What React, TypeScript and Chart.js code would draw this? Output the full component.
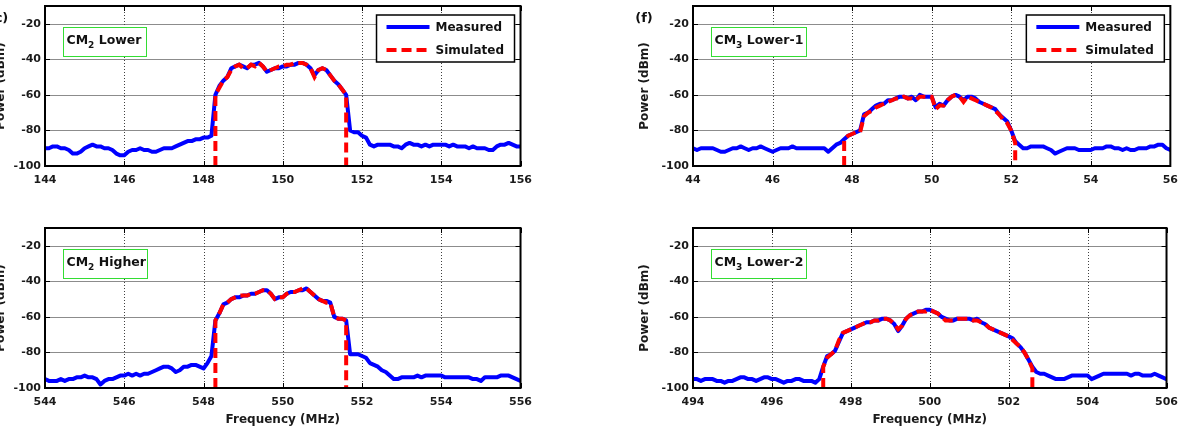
import React, { useEffect, useRef } from "react";
import { Chart, registerables } from "chart.js";

Chart.register(...registerables);

// ---------- data ----------
const STEP = 0.1; // MHz between samples
const Y_MIN = -100;
const Y_MAX = -10;
const yTicks = [-100, -80, -60, -40, -20];

// (c) CM2 Lower
const xTicksA = [144, 146, 148, 150, 152, 154, 156];
const measStartA = 144.0;
const measuredA = [
  -90, -90, -89, -89, -90, -90, -91, -93, -93, -92,
  -90, -89, -88, -89, -89, -90, -90, -91, -93, -94,
  -94, -92, -91, -91, -90, -91, -91, -92, -92, -91,
  -90, -90, -90, -89, -88, -87, -86, -86, -85, -85,
  -84, -84, -83, -60, -55, -52, -50, -45, -44, -43,
  -44, -45, -43, -43, -42, -44, -47, -46, -45, -45,
  -44, -44, -43, -43, -42, -42, -43, -45, -49, -46,
  -45, -46, -49, -52, -54, -57, -60, -80, -81, -81,
  -83, -84, -88, -89, -88, -88, -88, -88, -89, -89,
  -90, -88, -87, -88, -88, -89, -88, -89, -88, -88,
  -88, -88, -89, -88, -89, -89, -89, -90, -89, -90,
  -90, -90, -91, -91, -89, -88, -88, -87, -88, -89,
  -89,
];
const simStartA = 148.3;
const simulatedA = [
  -60, -56, -52, -50, -46, -44, -43, -45, -45, -43,
  -44, -42, -44, -47, -46, -45, -44, -44, -43, -43,
  -42, -42, -42, -43, -45, -50, -46, -45, -46, -49,
  -52, -54, -57, -60,
];

// CM2 Higher
const xTicksB = [544, 546, 548, 550, 552, 554, 556];
const measStartB = 544.0;
const measuredB = [
  -95, -96, -96, -96, -95, -96, -95, -95, -94, -94,
  -93, -94, -94, -95, -98, -96, -95, -95, -94, -93,
  -93, -92, -93, -92, -93, -92, -92, -91, -90, -89,
  -88, -88, -89, -91, -90, -88, -88, -87, -87, -88,
  -89, -86, -82, -62, -58, -53, -52, -50, -49, -49,
  -48, -48, -47, -47, -46, -45, -45, -47, -50, -49,
  -49, -47, -46, -46, -45, -45, -44, -46, -48, -50,
  -51, -51, -52, -60, -61, -61, -62, -81, -81, -81,
  -82, -83, -86, -87, -88, -90, -91, -93, -95, -95,
  -94, -94, -94, -94, -93, -94, -93, -93, -93, -93,
  -93, -94, -94, -94, -94, -94, -94, -94, -95, -95,
  -96, -94, -94, -94, -94, -93, -93, -93, -94, -95,
  -96,
];
const simStartB = 548.3;
const simulatedB = [
  -62, -58, -53, -52, -50, -49, -48, -48, -48, -47,
  -47, -46, -45, -45, -47, -50, -49, -49, -47, -46,
  -46, -45, -44, -44, -46, -48, -50, -51, -52, -52,
  -60, -61, -61, -62,
];

// (f) CM3 Lower-1
const xTicksC = [44, 46, 48, 50, 52, 54, 56];
const measStartC = 44.0;
const measuredC = [
  -90, -91, -90, -90, -90, -90, -91, -92, -92, -91,
  -90, -90, -89, -90, -91, -90, -90, -89, -90, -91,
  -92, -91, -90, -90, -90, -89, -90, -90, -90, -90,
  -90, -90, -90, -90, -92, -90, -88, -87, -85, -83,
  -82, -81, -80, -71, -70, -68, -66, -65, -65, -63,
  -63, -62, -61, -61, -62, -61, -63, -60, -61, -61,
  -61, -67, -65, -66, -63, -61, -60, -61, -63, -61,
  -61, -62, -64, -65, -66, -67, -68, -71, -73, -75,
  -80, -86, -88, -90, -90, -89, -89, -89, -89, -90,
  -91, -93, -92, -91, -90, -90, -90, -91, -91, -91,
  -91, -90, -90, -90, -89, -89, -90, -90, -91, -90,
  -91, -91, -90, -90, -90, -89, -89, -88, -88, -90,
  -91,
];
const simStartC = 47.8;
const simulatedC = [
  -85, -83, -82, -81, -81, -72, -70, -69, -67, -66,
  -65, -64, -63, -62, -62, -61, -62, -62, -63, -61,
  -61, -61, -61, -68, -66, -66, -63, -61, -60, -61,
  -64, -61, -62, -63, -64, -65, -66, -67, -69, -71,
  -74, -76, -80, -87,
];

// CM3 Lower-2
const xTicksD = [494, 496, 498, 500, 502, 504, 506];
const measStartD = 494.0;
const measuredD = [
  -95, -95, -96, -95, -95, -95, -96, -96, -97, -96,
  -96, -95, -94, -94, -95, -95, -96, -95, -94, -94,
  -95, -95, -96, -97, -96, -96, -95, -95, -96, -96,
  -96, -97, -95, -88, -82, -81, -79, -74, -69, -68,
  -67, -66, -65, -64, -63, -63, -62, -62, -61, -61,
  -62, -64, -68, -65, -61, -59, -58, -57, -57, -56,
  -56, -57, -58, -60, -61, -62, -62, -61, -61, -61,
  -61, -62, -61, -63, -64, -66, -67, -68, -69, -70,
  -71, -72, -75, -77, -80, -84, -88, -91, -92, -92,
  -93, -94, -95, -95, -95, -94, -93, -93, -93, -93,
  -93, -95, -94, -93, -92, -92, -92, -92, -92, -92,
  -92, -93, -92, -92, -93, -93, -93, -92, -93, -94,
  -95,
];
const simStartD = 497.3;
const simulatedD = [
  -88, -83, -81, -79, -73, -69, -68, -67, -66, -65,
  -64, -63, -63, -62, -62, -61, -61, -62, -64, -67,
  -65, -61, -59, -58, -57, -57, -57, -56, -57, -58,
  -60, -62, -62, -62, -61, -61, -61, -61, -62, -62,
  -63, -64, -66, -67, -68, -69, -70, -71, -73, -75,
  -77, -80, -84, -89,
];

const legendLabels = ["Measured", "Simulated"];
const xTitle = "Frequency (MHz)";
const yTitle = "Power (dBm)";

// ---------- helpers ----------
type Pt = { x: number; y: number };
function series(start: number, vals: number[]): Pt[] {
  return vals.map((v, i) => ({ x: +(start + i * STEP).toFixed(3), y: v }));
}
function simSeries(start: number, vals: number[]): Pt[] {
  const pts = series(start, vals);
  return [{ x: pts[0].x, y: Y_MIN }, ...pts, { x: pts[pts.length - 1].x, y: Y_MIN }];
}

const FONT = "'DejaVu Sans', sans-serif";
const LINE_W = 4;

type Panel = {
  key: string;
  left: number;
  top: number;
  width: number;
  height: number;
  xTicks: number[];
  measStart: number;
  measured: number[];
  simStart: number;
  simulated: number[];
  tag: [string, string, string];
  tagWidth: number;
  letter?: string;
  letterDx?: number;
  yTitlePad: number;
  showXTitle: boolean;
  showLegend: boolean;
};

const panels: Panel[] = [
  {
    key: "a", left: 45, top: 6, width: 485, height: 160,
    xTicks: xTicksA, measStart: measStartA, measured: measuredA,
    simStart: simStartA, simulated: simulatedA,
    tag: ["CM", "2", " Lower"], tagWidth: 83,
    letter: "(c)", letterDx: -46.5, yTitlePad: 8.8, showXTitle: false, showLegend: true,
  },
  {
    key: "b", left: 45, top: 228, width: 485, height: 160,
    xTicks: xTicksB, measStart: measStartB, measured: measuredB,
    simStart: simStartB, simulated: simulatedB,
    tag: ["CM", "2", " Higher"], tagWidth: 84,
    yTitlePad: 8.8, showXTitle: true, showLegend: false,
  },
  {
    key: "c", left: 693, top: 6, width: 483, height: 160,
    xTicks: xTicksC, measStart: measStartC, measured: measuredC,
    simStart: simStartC, simulated: simulatedC,
    tag: ["CM", "3", " Lower-1"], tagWidth: 95,
    letter: "(f)", letterDx: -49, yTitlePad: 4.8, showXTitle: false, showLegend: true,
  },
  {
    key: "d", left: 693, top: 228, width: 483, height: 160,
    xTicks: xTicksD, measStart: measStartD, measured: measuredD,
    simStart: simStartD, simulated: simulatedD,
    tag: ["CM", "3", " Lower-2"], tagWidth: 95,
    yTitlePad: 4.8, showXTitle: true, showLegend: false,
  },
];

const PADL = 60;
const PADT = 28;
const PADR = 10;
const PADB = 40;

function PanelChart({ p }: { p: Panel }) {
  const ref = useRef<HTMLCanvasElement | null>(null);
  useEffect(() => {
    if (!ref.current) return;
    const xMin = p.xTicks[0];
    const xMax = p.xTicks[p.xTicks.length - 1];

    const overlay = {
      id: "overlay_" + p.key,
      beforeDatasetsDraw(chart: any) {
        const { ctx, chartArea: a, scales } = chart;
        const xs = scales.x;
        const ys = scales.y;
        ctx.save();
        // horizontal grid
        ctx.strokeStyle = "#8c8c8c";
        ctx.lineWidth = 1;
        ctx.setLineDash([]);
        yTicks.forEach((v) => {
          if (v === Y_MIN) return;
          const y = Math.round(ys.getPixelForValue(v)) + 0.5;
          ctx.beginPath();
          ctx.moveTo(a.left, y);
          ctx.lineTo(a.right, y);
          ctx.stroke();
        });
        // vertical grid (dotted)
        ctx.strokeStyle = "#404040";
        ctx.setLineDash([1, 2]);
        p.xTicks.forEach((v) => {
          if (v === xMin || v === xMax) return;
          const x = Math.round(xs.getPixelForValue(v)) + 0.5;
          ctx.beginPath();
          ctx.moveTo(x, a.top);
          ctx.lineTo(x, a.bottom);
          ctx.stroke();
        });
        ctx.restore();
      },
      afterDraw(chart: any) {
        const { ctx, chartArea: a, scales } = chart;
        const xs = scales.x;
        const ys = scales.y;
        ctx.save();
        ctx.setLineDash([]);
        // inner tick marks
        ctx.strokeStyle = "#000";
        ctx.lineWidth = 1;
        const TL = 5;
        p.xTicks.forEach((v) => {
          const x = Math.round(xs.getPixelForValue(v)) + 0.5;
          ctx.beginPath();
          ctx.moveTo(x, a.bottom);
          ctx.lineTo(x, a.bottom - TL);
          ctx.moveTo(x, a.top);
          ctx.lineTo(x, a.top + TL);
          ctx.stroke();
        });
        yTicks.forEach((v) => {
          const y = Math.round(ys.getPixelForValue(v)) + 0.5;
          ctx.beginPath();
          ctx.moveTo(a.left, y);
          ctx.lineTo(a.left + TL, y);
          ctx.moveTo(a.right, y);
          ctx.lineTo(a.right - TL, y);
          ctx.stroke();
        });
        // box
        ctx.lineWidth = 2;
        ctx.strokeRect(a.left, a.top, a.right - a.left, a.bottom - a.top);

        // tag box
        const bx = a.left + 18.5;
        const by = a.top + 21.5;
        ctx.lineWidth = 1;
        ctx.fillStyle = "#fff";
        ctx.fillRect(bx, by, p.tagWidth, 29);
        ctx.strokeStyle = "#33dd33";
        ctx.strokeRect(bx, by, p.tagWidth, 29);
        ctx.fillStyle = "#111";
        ctx.textBaseline = "middle";
        ctx.textAlign = "left";
        let tx = bx + 3;
        const ty = by + 13;
        ctx.font = `bold 12.5px ${FONT}`;
        ctx.fillText(p.tag[0], tx, ty);
        tx += ctx.measureText(p.tag[0]).width;
        ctx.font = `bold 9px ${FONT}`;
        ctx.fillText(p.tag[1], tx, ty + 5);
        tx += ctx.measureText(p.tag[1]).width;
        ctx.font = `bold 12.5px ${FONT}`;
        ctx.fillText(p.tag[2], tx, ty);

        // legend
        if (p.showLegend) {
          const lw = 138;
          const lh = 47;
          const lx = a.right - 144;
          const ly = a.top + 9;
          ctx.fillStyle = "#fff";
          ctx.fillRect(lx, ly, lw, lh);
          ctx.strokeStyle = "#000";
          ctx.lineWidth = 1.5;
          ctx.strokeRect(lx, ly, lw, lh);
          ctx.lineWidth = LINE_W;
          ctx.strokeStyle = "#0000ff";
          ctx.beginPath();
          ctx.moveTo(lx + 10, ly + 12);
          ctx.lineTo(lx + 53, ly + 12);
          ctx.stroke();
          ctx.strokeStyle = "#ff0000";
          ctx.setLineDash([10, 5]);
          ctx.beginPath();
          ctx.moveTo(lx + 10, ly + 35);
          ctx.lineTo(lx + 53, ly + 35);
          ctx.stroke();
          ctx.setLineDash([]);
          ctx.fillStyle = "#111";
          ctx.font = `bold 12px ${FONT}`;
          ctx.fillText(legendLabels[0], lx + 59, ly + 13);
          ctx.fillText(legendLabels[1], lx + 59, ly + 36);
        }

        // panel letter
        if (p.letter) {
          ctx.fillStyle = "#111";
          ctx.font = `bold 13px ${FONT}`;
          ctx.textAlign = "center";
          ctx.fillText(p.letter, a.left + (p.letterDx || 0), a.top + 13);
        }
        ctx.restore();
      },
    };

    const tickFont = { family: FONT, size: 11, weight: "bold" as const };
    const titleFont = { family: FONT, size: 12, weight: "bold" as const };

    const chart = new Chart(ref.current, {
      type: "line",
      data: {
        datasets: [
          {
            label: legendLabels[1],
            data: simSeries(p.simStart, p.simulated),
            borderColor: "#ff0000",
            borderWidth: LINE_W,
            borderDash: [10, 5],
            pointRadius: 0,
            tension: 0,
            fill: false,
            order: 1,
          },
          {
            label: legendLabels[0],
            data: series(p.measStart, p.measured),
            borderColor: "#0000ff",
            borderWidth: LINE_W,
            borderJoinStyle: "round",
            borderCapStyle: "round",
            pointRadius: 0,
            tension: 0,
            fill: false,
            order: 2,
          },
        ],
      },
      options: {
        animation: false,
        responsive: false,
        devicePixelRatio: 1,
        layout: { padding: { left: 0, top: PADT, right: PADR, bottom: 0 } },
        plugins: {
          legend: { display: false },
          tooltip: { enabled: false },
          title: { display: false },
        },
        scales: {
          x: {
            type: "linear",
            min: xMin,
            max: xMax,
            afterBuildTicks: (s: any) => {
              s.ticks = p.xTicks.map((v) => ({ value: v }));
            },
            afterFit: (s: any) => {
              s.height = PADB;
            },
            grid: { display: false, drawTicks: false },
            border: { display: false },
            ticks: {
              font: tickFont,
              color: "#1a1a1a",
              padding: 8,
              maxRotation: 0,
              autoSkip: false,
              callback: (v: any) => String(v),
            },
            title: {
              display: p.showXTitle,
              text: xTitle,
              font: titleFont,
              color: "#1a1a1a",
              padding: { top: 0, bottom: 1 },
            },
          },
          y: {
            type: "linear",
            min: Y_MIN,
            max: Y_MAX,
            afterBuildTicks: (s: any) => {
              s.ticks = yTicks.map((v) => ({ value: v }));
            },
            afterFit: (s: any) => {
              s.width = PADL;
            },
            grid: { display: false, drawTicks: false },
            border: { display: false },
            ticks: {
              font: tickFont,
              color: "#1a1a1a",
              padding: 4,
              autoSkip: false,
              callback: (v: any) => String(v),
            },
            title: {
              display: true,
              text: yTitle,
              font: titleFont,
              color: "#1a1a1a",
              padding: { top: p.yTitlePad, bottom: 0 },
            },
          },
        },
      } as any,
      plugins: [overlay],
    });
    return () => chart.destroy();
  }, [p]);

  const w = p.width + PADL + PADR;
  const h = p.height + PADT + PADB;
  return (
    <canvas
      ref={ref}
      width={w}
      height={h}
      style={{
        position: "absolute",
        left: p.left - PADL,
        top: p.top - PADT,
        width: w,
        height: h,
      }}
    />
  );
}

export default function App() {
  return (
    <div
      style={{
        position: "fixed",
        left: 0,
        top: 0,
        width: 1188,
        height: 426,
        overflow: "hidden",
        background: "#fff",
      }}
    >
      {panels.map((p) => (
        <PanelChart key={p.key} p={p} />
      ))}
    </div>
  );
}
